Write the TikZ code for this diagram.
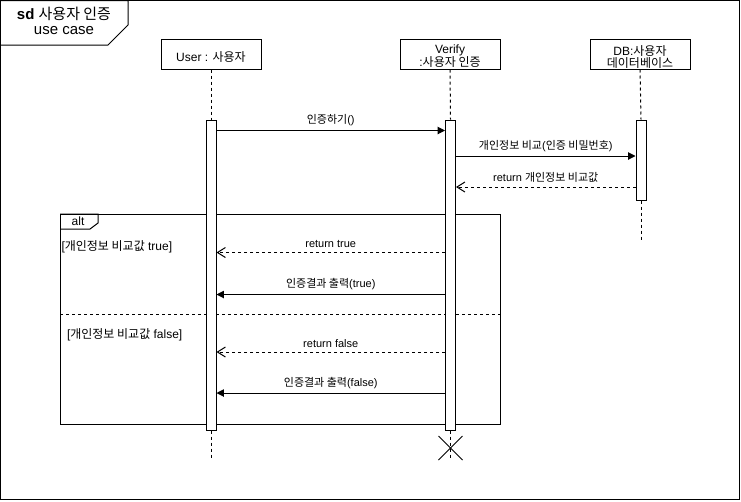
\documentclass[tikz,border=0pt]{standalone}
\usepackage{fontspec}
\setmainfont{Liberation Sans}
\newfontfamily\kr{Noto Sans CJK KR}
\newcommand{\ko}[1]{{\kr #1}}
\usetikzlibrary{arrows.meta}

\tikzset{
  head/.style={draw, fill=white, minimum width=75pt, minimum height=22.5pt,
    inner sep=0pt},
  headtext/.style={inner sep=0pt, align=center, font=\fontsize{9}{9.6}\selectfont},
  actbar/.style={draw, fill=white, minimum width=7.5pt, inner sep=0pt},
  life/.style={dash pattern=on 2.25pt off 2.25pt},
  sync/.style={-{Triangle[length=5.5pt,width=5.5pt]}},
  reply/.style={dash pattern=on 2.25pt off 2.25pt,
    -{Straight Barb[length=6pt,width=7.5pt]}},
  msg/.style={font=\fontsize{8.25}{9}\selectfont, inner sep=0pt, above=3pt},
  guard/.style={anchor=west, inner sep=0pt, font=\fontsize{9}{10}\selectfont},
  ttl/.style={inner sep=0pt, font=\fontsize{11.25}{12}\selectfont}
}

\begin{document}
\begin{tikzpicture}[x=0.75pt, y=-0.75pt, line width=0.75pt]
  \useasboundingbox (0,0) rectangle (741,501);

  % diagram frame and its title tab
  \draw (0.5,0.5) rectangle (739.5,499.5);
  \draw (0.5,0.5) -- (128,0.5) -- (128,25) -- (108,45) -- (0.5,45);
  \node[ttl] (title) at (64,13.5) {\textbf{sd} \ko{사용자 인증}};
  \node[ttl] (subtitle) at (64,30.5) {use case};

  % lifeline heads
  \node[head] (user) at (211,54) {};
  \node[head] (verify) at (450,54) {};
  \node[head] (db) at (640,54) {};
  \node[headtext] (userLbl) at (211,57) {User : \ko{사용자}};
  \node[headtext] (verifyLbl) at (450,56.5) {Verify\\:\ko{사용자 인증}};
  \node[headtext] (dbLbl) at (640,57) {DB:\ko{사용자}\\\ko{데이터베이스}};

  % lifeline ends
  \coordinate (userEnd) at (211,460);
  \coordinate (verEnd) at (450.5,460);
  \coordinate (dbEnd) at (641,240);
  \coordinate (xmark) at (450.5,448);

  % alt combined fragment
  \draw (60,214) rectangle (500,424);
  \draw (60,214) -- (98,214) -- (98,223) -- (90,229) -- (60,229);
  \node[guard, anchor=center] (altlabel) at (78,221.5) {alt};
  \draw[dash pattern=on 2.25pt off 2.25pt] (60,314.5) -- (500,314.5);
  \node[guard] (guardTrue) at (61,247) {[\ko{개인정보 비교값} true]};
  \node[guard] (guardFalse) at (66.5,335) {[\ko{개인정보 비교값} false]};

  % activation bars
  \node[actbar, minimum height=232.5pt] (userAct) at (211,275) {};
  \node[actbar, minimum height=232.5pt] (verAct) at (450.5,275) {};
  \node[actbar, minimum height=60pt] (dbAct) at (641,160) {};

  % lifelines
  \draw[life] (user.south) -- (userAct.north);
  \draw[life] (userAct.south) -- (userEnd);
  \draw[life] (verify.south) -- (verAct.north);
  \draw[life] (verAct.south) -- (verEnd);
  \draw[life] (db.south) -- (dbAct.north);
  \draw[life] (dbAct.south) -- (dbEnd);

  % destruction mark
  \draw ([shift={(-12,-12)}]xmark) -- ([shift={(12,12)}]xmark);
  \draw ([shift={(-12,12)}]xmark) -- ([shift={(12,-12)}]xmark);

  % messages
  \draw[sync] (userAct.east |- 0,130.5) -- node[msg] (m1) {\ko{인증하기}()}
    (verAct.west |- 0,130.5);
  \draw[sync] (verAct.east |- 0,156) -- node[msg] (m2) {\ko{개인정보 비교}(\ko{인증 비밀번호})}
    (dbAct.west |- 0,156);
  \draw[reply] (dbAct.west |- 0,187) -- node[msg] (m3) {return \ko{개인정보 비교값}}
    (verAct.east |- 0,187);
  \draw[reply] (verAct.west |- 0,252.5) -- node[msg] (m4) {return true}
    (userAct.east |- 0,252.5);
  \draw[sync] (verAct.west |- 0,294.5) -- node[msg] (m5) {\ko{인증결과 출력}(true)}
    (userAct.east |- 0,294.5);
  \draw[reply] (verAct.west |- 0,352) -- node[msg] (m6) {return false}
    (userAct.east |- 0,352);
  \draw[sync] (verAct.west |- 0,393) -- node[msg] (m7) {\ko{인증결과 출력}(false)}
    (userAct.east |- 0,393);
\end{tikzpicture}
\end{document}
